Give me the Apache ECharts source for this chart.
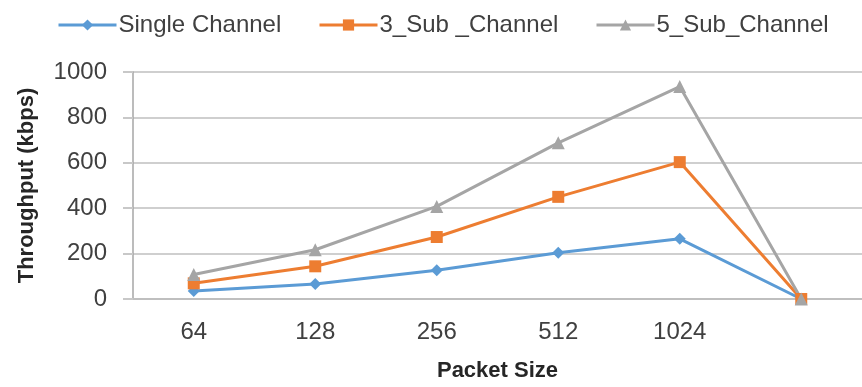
<!DOCTYPE html>
<html>
<head>
<meta charset="utf-8">
<script src="https://cdn.jsdelivr.net/npm/echarts@6/dist/echarts.min.js"></script>
<style>
  html, body { margin: 0; padding: 0; background: #ffffff; }
  #chart { width: 862px; height: 387px; }
</style>
</head>
<body>
<div id="chart"></div>
<script>
// Packet sizes on the x axis (the last slot has no label)
const packetSizes = ['64', '128', '256', '512', '1024', ''];

// Throughput in kbps for each channel configuration
const singleChannel = [35, 66, 127, 204, 265, 0];
const sub3Channel = [69, 144, 273, 450, 603, 0];
const sub5Channel = [108, 217, 408, 688, 936, 0];

const yTicks = { min: 0, max: 1000, interval: 200 };

const seriesNames = ['Single Channel', '3_Sub _Channel', '5_Sub_Channel'];
const seriesColors = ['#5B9BD5', '#ED7D31', '#A5A5A5'];

const chart = echarts.init(document.getElementById('chart'), null, { renderer: 'canvas' });

const baseFont = '"Liberation Sans", Arial, sans-serif';

function legendAt(name, left) {
  return {
    data: [name],
    left: left,
    top: 8,
    itemWidth: 58,
    itemHeight: 14,
    itemGap: 0,
    lineStyle: { width: 3 },
    textStyle: { fontFamily: baseFont, fontSize: 24, color: '#404040', padding: [0, 0, 0, -3] },
    selectedMode: false
  };
}

chart.setOption({
  backgroundColor: '#ffffff',
  animation: false,
  legend: [
    legendAt(seriesNames[0], 52),
    legendAt(seriesNames[1], 313),
    legendAt(seriesNames[2], 590)
  ],
  grid: { left: 133, right: -10, top: 72, bottom: 86 },
  xAxis: {
    type: 'category',
    data: packetSizes,
    boundaryGap: true,
    name: 'Packet Size',
    nameLocation: 'middle',
    nameGap: 61,
    nameTextStyle: { fontFamily: baseFont, fontSize: 22, fontWeight: 'bold', color: '#262626' },
    axisLine: { show: true, lineStyle: { color: '#BFBFBF', width: 2 } },
    axisTick: { show: false },
    axisLabel: { fontFamily: baseFont, fontSize: 24, color: '#404040', margin: 21 },
    splitLine: { show: false }
  },
  yAxis: {
    type: 'value',
    min: yTicks.min,
    max: yTicks.max,
    interval: yTicks.interval,
    name: 'Throughput (kbps)',
    nameLocation: 'middle',
    nameGap: 95,
    nameTextStyle: { fontFamily: baseFont, fontSize: 22, fontWeight: 'bold', color: '#262626' },
    axisLine: { show: true, lineStyle: { color: '#A6A6A6', width: 1.5 } },
    axisTick: { show: true, inside: false, length: 10, lineStyle: { color: '#C8C8C8', width: 2 } },
    axisLabel: {
      fontFamily: baseFont, fontSize: 24, color: '#404040', margin: 26,
      formatter: function (v) { return String(v); }
    },
    splitLine: { show: true, lineStyle: { color: '#CFCFCF', width: 2 } }
  },
  series: [
    {
      name: seriesNames[0], type: 'line', data: singleChannel,
      symbol: 'diamond', symbolSize: 12,
      lineStyle: { color: seriesColors[0], width: 3 },
      itemStyle: { color: seriesColors[0] }
    },
    {
      name: seriesNames[1], type: 'line', data: sub3Channel,
      symbol: 'rect', symbolSize: 12,
      lineStyle: { color: seriesColors[1], width: 3 },
      itemStyle: { color: seriesColors[1] }
    },
    {
      name: seriesNames[2], type: 'line', data: sub5Channel,
      symbol: 'triangle', symbolSize: 13,
      lineStyle: { color: seriesColors[2], width: 3 },
      itemStyle: { color: seriesColors[2] }
    }
  ]
});
</script>
</body>
</html>
